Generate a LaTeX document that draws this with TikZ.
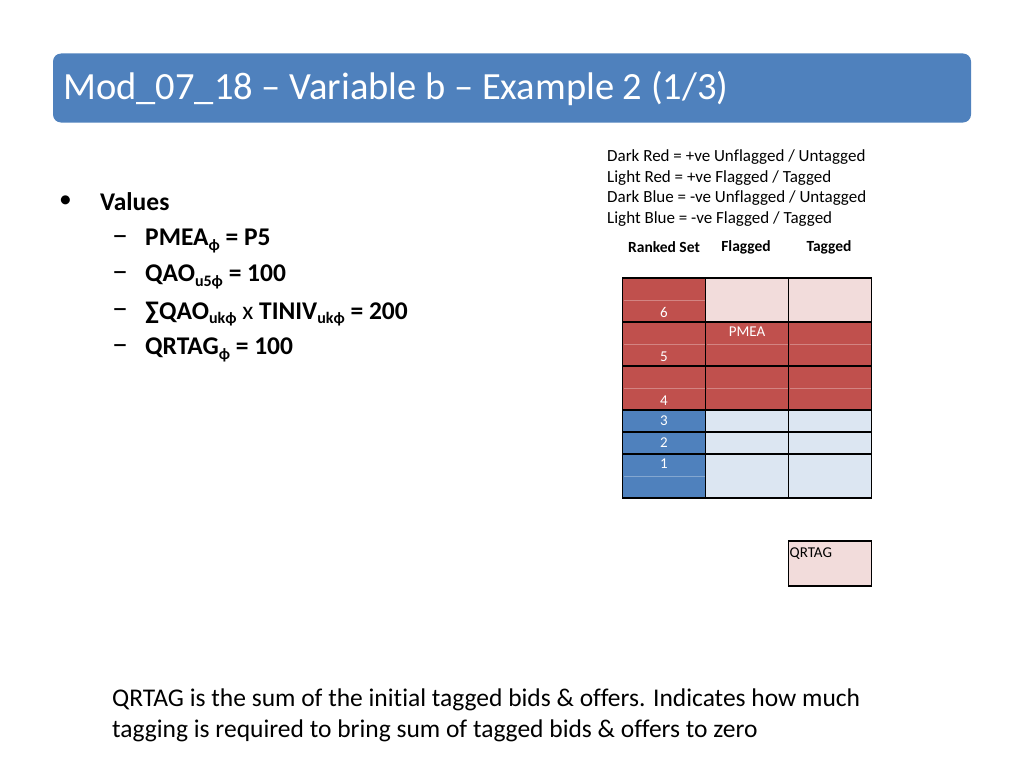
\documentclass[tikz,border=0pt]{standalone}
\usepackage{fontspec}
\setmainfont{Carlito}[Ligatures=NoCommon]
\usetikzlibrary{positioning}
\definecolor{hdrblue}{HTML}{4F81BD}
\definecolor{dkred}{HTML}{C0504D}
\definecolor{ltred}{HTML}{F2DCDB}
\definecolor{dkblue}{HTML}{4F81BD}
\definecolor{ltblue}{HTML}{DCE6F2}
\newcommand{\phisub}[1]{\raisebox{-4.5pt}{\fontsize{16}{16}\selectfont #1}}

\begin{document}
\begin{tikzpicture}[
  x=1pt, y=-1pt,
  cell/.style={rectangle, draw=black, line width=1.2pt, inner sep=0pt, outer sep=0pt,
               minimum width=83pt},
  tall/.style={cell, minimum height=44pt},
  short/.style={cell, minimum height=22pt},
  num/.style={inner sep=0pt, text=white, font=\fontsize{15}{15}\selectfont},
  legend/.style={anchor=west, inner sep=0pt, font=\fontsize{17}{17}\selectfont},
  colhead/.style={inner sep=0pt, font=\bfseries\fontsize{15.5}{15.5}\selectfont},
  item/.style={anchor=west, inner sep=0pt, font=\bfseries\fontsize{25.5}{25.5}\selectfont},
  dashmark/.style={anchor=west, inner sep=0pt, font=\fontsize{32}{32}\selectfont},
  midline/.style={draw=white, opacity=0.3, line width=0.8pt},
]
  \useasboundingbox (0,0) rectangle (1024,768);

  % title bar
  \node[rectangle, rounded corners=8pt, fill=hdrblue, minimum width=918pt,
        minimum height=69pt, inner sep=0pt] (bar) at (512,88) {};
  \node[anchor=west, inner sep=0pt, text=white,
        font=\fontsize{38.5}{38.5}\selectfont] (title) at (63,89)
        {Mod\_07\_18 – Variable b – Example 2 (1/3)};

  % values list
  \node[anchor=west, inner sep=0pt, font=\fontsize{25.5}{25.5}\selectfont] (bullet) at (59,202) {•};
  \node[item] (values) at (100,202) {Values};
  \foreach \yy/\nm in {241/a,277/b,314/c,350/d}
    \node[dashmark] (dash\nm) at (112,\yy) {–};
  \node[item] (pmea) at (145,241) {PMEA\phisub{ϕ} = P5};
  \node[item] (qao) at (145,277) {QAO\phisub{u5ϕ} = 100};
  \node[item] (sumq) at (145,314)
    {∑QAO\phisub{ukϕ} \mdseries x \bfseries TINIV\phisub{ukϕ} = 200};
  \node[item] (qrtag) at (145,350) {QRTAG\phisub{ϕ} = 100};

  % legend
  \node[legend] (lg1) at (607,157) {Dark Red = +ve Unflagged / Untagged};
  \node[legend] (lg2) at (607,178) {Light Red = +ve Flagged / Tagged};
  \node[legend] (lg3) at (607,198) {Dark Blue = -ve Unflagged / Untagged};
  \node[legend] (lg4) at (607,219) {Light Blue = -ve Flagged / Tagged};

  % column headings
  \node[colhead] (hrank) at (664,247) {Ranked Set};
  \node[colhead] (hflag) at (746,247) {Flagged};
  \node[colhead] (htag)  at (829,247) {Tagged};

  % ranked set
  \node[tall, fill=dkred]   (r6) at (664,300) {};
  \node[tall, fill=dkred]   (r5) at (664,344) {};
  \node[tall, fill=dkred]   (r4) at (664,388) {};
  \node[short, fill=dkblue] (r3) at (664,421) {};
  \node[short, fill=dkblue] (r2) at (664,443) {};
  \node[tall, fill=dkblue]  (r1) at (664,476) {};
  % flagged
  \node[tall, fill=ltred]   (f6) at (747,300) {};
  \node[tall, fill=dkred]   (f5) at (747,344) {};
  \node[tall, fill=dkred]   (f4) at (747,388) {};
  \node[short, fill=ltblue] (f3) at (747,421) {};
  \node[short, fill=ltblue] (f2) at (747,443) {};
  \node[tall, fill=ltblue]  (f1) at (747,476) {};
  % tagged
  \node[tall, fill=ltred]   (t6) at (830,300) {};
  \node[tall, fill=dkred]   (t5) at (830,344) {};
  \node[tall, fill=dkred]   (t4) at (830,388) {};
  \node[short, fill=ltblue] (t3) at (830,421) {};
  \node[short, fill=ltblue] (t2) at (830,443) {};
  \node[tall, fill=ltblue]  (t1) at (830,476) {};

  % faint half-row lines
  \foreach \c in {r6,r5,r4,r1,f5,f4,t5,t4}
    \draw[midline] ([xshift=1pt]\c.west) -- ([xshift=-1pt]\c.east);

  % numbers
  \node[num, above=4pt of r6.south] (n6) {6};
  \node[num, above=4pt of r5.south] (n5) {5};
  \node[num, above=4pt of r4.south] (n4) {4};
  \node[num] (n3) at (r3) {3};
  \node[num] (n2) at (r2) {2};
  \node[num, below=5pt of r1.north] (n1) {1};
  \node[num, below=5pt of f5.north] (npmea) {PMEA};

  % qrtag box
  \node[cell, fill=ltred, minimum height=45pt] (qbox) at (830,563.5) {};
  \node[anchor=north west, inner sep=0pt, font=\fontsize{15}{15}\selectfont]
    (qlabel) at ([xshift=1pt,yshift=-7pt]qbox.north west) {QRTAG};

  % note
  \node[anchor=west, inner sep=0pt, align=left, font=\fontsize{25.5}{31}\selectfont]
    (note) at (112,715)
    {QRTAG is the sum of the initial tagged bids \& offers. Indicates how much\\
     tagging is required to bring sum of tagged bids \& offers to zero};
\end{tikzpicture}
\end{document}
